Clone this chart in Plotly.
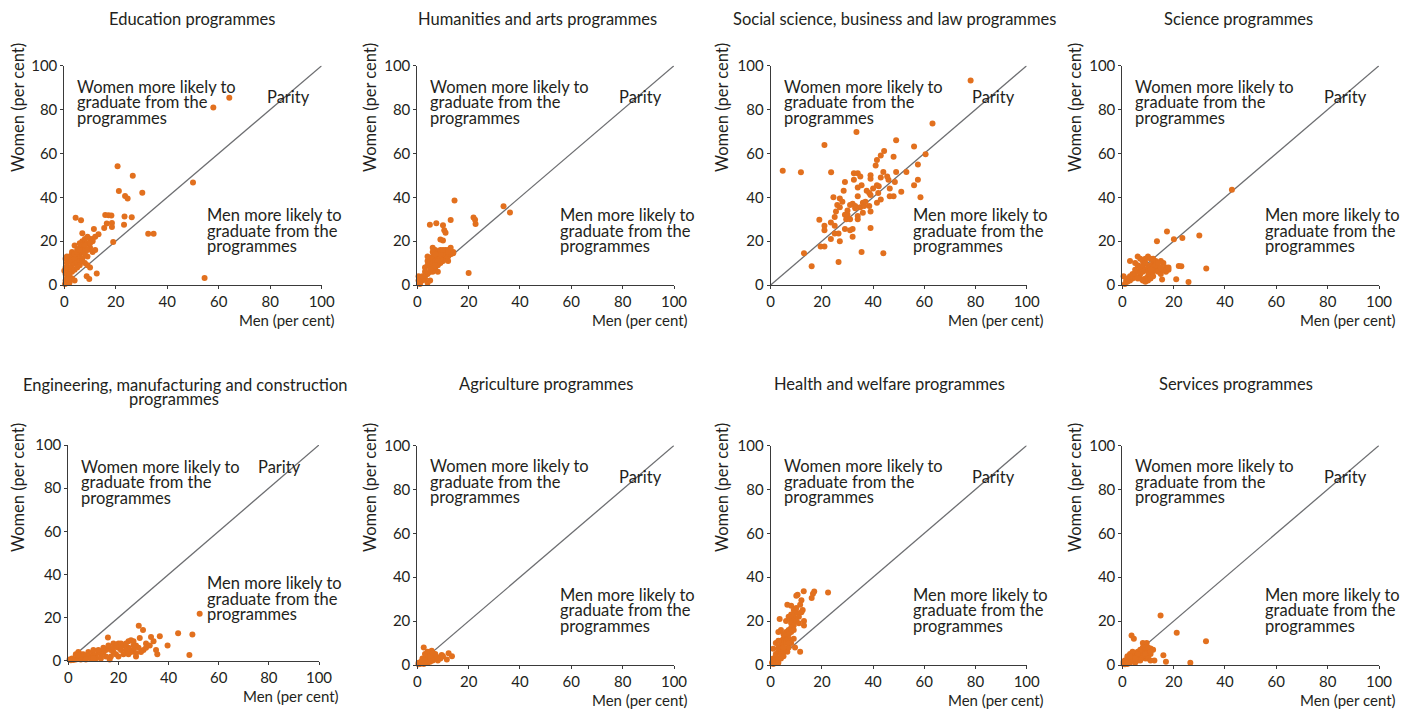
import plotly.graph_objects as go

W, H = 1412, 709

titles = [
    ["Education programmes"],
    ["Humanities and arts programmes"],
    ["Social science, business and law programmes"],
    ["Science programmes"],
    ["Engineering, manufacturing and construction", "programmes"],
    ["Agriculture programmes"],
    ["Health and welfare programmes"],
    ["Services programmes"],
]

tick_vals = [0, 20, 40, 60, 80, 100]
parity = [0, 100]

edu_points = [
    (64.1, 85.4), (57.9, 80.9), (20.7, 54.1), (26.6, 49.8), (50, 46.7), (21.2, 42.9), (30.3, 42.1),
    (23.6, 40.6), (24.6, 39.4), (4.4, 30.7), (15.9, 31.9), (17.2, 31.8), (18.3, 31.7), (23.4, 31.2),
    (26.2, 30.9), (6.5, 29.5), (16.5, 28), (18.5, 28.3), (23.2, 27.5), (18.5, 26.5), (11.5, 25.5),
    (15.5, 26), (7, 23.6), (13.3, 23.1), (32.6, 23.4), (34.7, 23.4), (19, 19.6), (54.5, 3.2),
    (12.6, 5.2), (9.7, 2.7), (8.7, 4),
    (2, 13), (3, 14), (4, 18), (5, 16), (6, 17), (7, 20), (8, 21), (9, 22), (10, 21), (11, 21),
    (6, 14), (5, 12), (4, 10), (3, 11), (7, 15), (8, 17), (9, 19), (6, 19), (7, 18), (5, 13),
    (4, 12), (3, 9), (2, 8), (1, 7), (1, 6), (0.5, 5), (1, 3), (2, 4), (0.5, 2), (1, 1), (2, 2),
    (0.3, 0.5), (3, 6), (4, 7), (5, 10), (6, 11), (7, 12), (8, 10), (9, 13), (11, 15), (12, 16),
    (10, 17), (8, 14), (9, 9), (10, 8), (6, 9), (7, 11), (5, 8), (3, 3), (2, 1), (4, 2), (1, 10),
    (2, 11), (3, 15), (11, 20), (12, 22), (8, 18), (9, 16), (10, 19), (7, 16), (4, 14), (5, 15),
    (6, 16), (0.5, 12), (1, 13), (0, 6.5), (0.5, 8), (2, 5), (1.5, 2.5),
]

hum_points = [
    (14.5, 38.5), (33.6, 35.9), (36.1, 33.1), (13, 29.6), (21.9, 30.8), (22.5, 29.8), (22.7, 27.8),
    (4.9, 27.5), (7.4, 28.2), (10, 27.3), (10.5, 25), (11, 23.8), (9, 20.8), (10, 20.3), (20, 5.5),
    (6, 17), (7, 16), (8, 15), (9, 16), (10, 15), (11, 14), (12, 16), (13, 17), (14, 15), (12, 13),
    (11, 12), (10, 11), (9, 10), (8, 9), (7, 12), (6, 13), (5, 12), (4, 11), (3, 8), (4, 9), (5, 10),
    (6, 8), (7, 7), (8, 6), (5, 6), (4, 5), (3, 3), (2, 2), (1, 1), (0.5, 4), (0.5, 2), (1, 0.5),
    (4, 1), (5, 2), (6, 10), (7, 11), (8, 13), (9, 12), (10, 14), (12, 11), (13, 14), (11, 16),
    (9, 14), (8, 11), (7, 9), (6, 6), (5, 7), (4, 13), (3, 6), (2, 4), (6, 15), (7, 14), (10, 16),
    (12, 15), (14, 14.5),
]

soc_points = [
    (78.1, 93.3), (63.2, 73.7), (33.5, 69.8), (49, 66), (21, 63.8), (44.3, 61.1), (56, 63.1),
    (43, 59), (60.5, 59.6), (48, 58.5), (41.5, 57), (4.7, 52.1), (11.8, 51.4), (23.6, 51.4),
    (32.5, 51), (34, 51), (41, 54.5), (44, 51.5), (49, 51.5), (53, 51.5), (57.5, 55), (39, 50),
    (39, 48.5), (35, 49.5), (32.5, 48), (29, 47), (43, 49), (46, 48), (45.5, 49.5), (48.5, 47),
    (56, 45.5), (57.5, 48), (35.5, 45.5), (41.5, 45.5), (42.2, 45), (34, 44.5), (28.5, 43),
    (37.5, 43), (38.5, 42), (46.5, 44), (51, 42.5), (39, 41), (24.5, 40), (27, 39.5), (34, 40.5),
    (46.5, 40.5), (48, 40.5), (58.5, 40), (28, 38), (32, 37), (36, 37.5), (43, 39), (41.5, 37.5),
    (26, 36.5), (27, 35.5), (33, 36), (35, 35.5), (38.5, 36), (30, 34), (36, 33), (39, 33.5),
    (25.5, 33.5), (29, 32), (25, 31), (34, 31.5), (29.5, 30), (34, 30), (31, 30), (19, 29.8),
    (23.5, 28.5), (21, 27), (25, 27), (29, 25.5), (32, 25.5), (39, 26), (21, 25), (31, 25),
    (25, 23.5), (26.5, 23.5), (32, 22), (23.5, 21), (27, 20), (19.5, 17.5), (21, 17.5),
    (13, 14.5), (35.5, 15), (44, 14.5), (16, 8.5), (26.5, 10.5), (36.5, 36), (37, 38),
    (33, 35), (31, 36.5), (40, 44), (42, 42), (30, 32),
]

sci_points = [
    (42.7, 43.4), (30, 22.6), (17.4, 24.4), (20.1, 20.9), (23.4, 21.4), (13.5, 20), (32.7, 7.5),
    (22, 8.7), (23, 8.5), (25.8, 1.4), (21, 2.6), (15.5, 2.5),
    (3, 11), (6, 13), (7, 12), (8, 11), (9, 12), (10, 13), (11, 12), (12, 10), (13, 11), (15, 11),
    (16, 10), (17, 8), (18, 7), (17, 6), (14, 8), (13, 7), (12, 6), (11, 5), (10, 4), (9, 3), (8, 2),
    (9, 1.5), (10, 2), (11, 3), (12, 4), (7, 5), (6, 6), (5, 4), (4, 3), (3, 2), (2, 1.5), (1, 0.5),
    (0.5, 4), (1.5, 2), (4, 5), (5, 10), (6, 9), (7, 8), (8, 9), (9, 7), (10, 8), (11, 9), (12, 8),
    (13, 9), (14, 6), (15, 5), (16, 7), (9, 10), (10, 6), (8, 6), (7, 3), (11, 7), (6, 3), (3, 4),
    (2, 3), (12, 12), (14, 10), (18, 8), (15, 8), (5, 7),
]

eng_points = [
    (52.4, 21.8), (28.1, 16.2), (29.8, 14.2), (43.8, 12.7), (49.5, 12.2), (36.5, 11.3), (15.8, 10.8),
    (33, 11), (28.5, 10.5), (39.6, 7), (48.3, 2.6), (27, 2), (16.5, 0.5), (35.5, 3), (35, 5),
    (34, 9), (31, 8), (32.5, 7),
    (20, 8), (22, 7), (24, 9), (25, 9.5), (26, 9), (27, 7), (26, 5), (25, 4), (24, 6), (23, 5),
    (22, 3), (20, 2), (18, 4), (17, 5), (16, 6), (15, 5), (14, 4), (13, 3), (12, 4), (11, 2),
    (10, 3), (9, 2), (8, 1.5), (7, 2), (6, 1), (5, 0.5), (4, 1), (3, 0.5), (2, 0.3), (1, 0.2),
    (3, 3), (4, 4), (5, 2), (6, 3), (8, 4), (10, 5), (12, 5), (14, 6), (16, 7), (18, 8), (19, 7),
    (20, 6), (21, 5), (19, 3), (17, 2), (15, 2), (13, 1), (11, 1), (9, 1), (21, 8), (23, 8),
    (18, 6), (30, 5), (29, 4), (31, 6), (28, 6), (26, 7), (24, 3), (27, 3.5), (10, 1), (7, 0.5),
    (5, 3), (4, 2.5), (1.5, 1), (0.5, 0.5),
]

agr_points = [
    (2.5, 8), (5.6, 6.5), (12.2, 5.3), (13.5, 4), (11.5, 2.5), (9.5, 4.5),
    (1, 1), (2, 2), (3, 3), (4, 4), (5, 5), (6, 4), (7, 3), (8, 3.5), (9, 3), (10, 4), (3, 1),
    (4, 2), (5, 3), (6, 2), (2, 1), (1, 0.5), (0.5, 0.3), (3, 5), (4, 6), (5, 4), (7, 5), (2, 3),
    (3, 2), (4, 1), (6, 5.5), (8, 2), (0.5, 1), (1.5, 1.5), (2.5, 0.5), (5, 1.5),
]

hea_points = [
    (22.4, 33), (12.9, 33.6), (17, 33.5), (16.5, 32.5), (10.5, 32), (10, 31.5), (16, 30.5),
    (12, 29.5), (11.5, 27.5), (6.5, 27.5), (8, 27), (12.5, 25), (3.5, 21), (13, 20), (13, 18),
    (1, 7.4), (11.5, 6), (9.5, 8), (6.5, 6),
    (9, 25), (10, 24), (9, 22), (8, 21), (9, 20), (8, 19), (9, 18), (8, 17), (7, 16), (6, 15),
    (8, 15), (9, 16), (7, 14), (6, 13), (5, 12), (4, 11), (5, 10), (4, 9), (3, 8), (4, 7), (3, 6),
    (2, 5), (2, 4), (1, 3), (1, 2), (0.5, 1), (2, 2), (3, 3), (4, 5), (5, 6), (6, 7), (7, 8),
    (8, 10), (7, 12), (6, 11), (5, 14), (3, 15), (2, 10), (3, 11), (8, 23), (10, 26), (11, 22),
    (12, 24), (6, 20), (7, 22), (5, 8), (4, 3), (2, 1), (1, 0.5), (3, 1), (9, 12), (10, 20),
    (11, 19), (4, 16), (6, 10), (7, 10), (5, 4),
]

ser_points = [
    (14.9, 22.6), (21.2, 14.7), (32.6, 10.8), (3.6, 13.4), (4.5, 12), (26.5, 1), (17, 1.5),
    (16, 4.4), (12.5, 2), (8, 10), (9.5, 10), (11, 7.5), (12, 7),
    (1, 1), (2, 2), (3, 3), (4, 4), (5, 5), (6, 6), (7, 5), (8, 6), (9, 7), (10, 6), (11, 5),
    (10, 4), (9, 3), (8, 4), (7, 3), (6, 2), (5, 1), (4, 2), (3, 1), (2, 0.5), (1, 0.3), (0.5, 0.5),
    (2, 3), (3, 5), (4, 6), (5, 4), (6, 4), (7, 7), (8, 8), (9, 5), (10, 3), (11, 2), (4, 3),
    (3, 2), (2, 4), (1, 2), (0.5, 1.5), (6, 5), (7, 2), (5, 3), (3, 4), (2, 1), (9, 8), (10, 8),
    (11, 6),
]

panels = [edu_points, hum_points, soc_points, sci_points, eng_points, agr_points, hea_points, ser_points]

women_label = ["Women more likely to", "graduate from the", "programmes"]
men_label = ["Men more likely to", "graduate from the", "programmes"]

# layout geometry (pixels)
col_x = [(64.3, 321.7), (417.3, 674.0), (770.7, 1026.7), (1122.3, 1379.0)]
row_y = [(65.7, 285.0), (445.5, 665.0)]
title_pos = [(191.5, 19), (537, 19), (894.5, 19), (1238, 19),
             (185, 385), (545.5, 384), (889.5, 384), (1236, 384)]
ytitle_x = [18, 370, 722, 1075]
ytitle_y = [108, 488]
xtitle_right = [337, 690, 1046, 1398]

FONT = "Lato"
TXT = "#231f20"
ORANGE = "#E2701E"
AX = "#3a3a3a"

fig = go.Figure()
layout = dict(
    template="none",
    width=W, height=H, margin=dict(l=0, r=0, t=0, b=0, pad=0), autosize=False,
    paper_bgcolor="white", plot_bgcolor="white", showlegend=False,
    font=dict(family=FONT, color=TXT, size=15),
)
annotations = []

def px(x):
    return x / W

def py(y):
    return 1 - y / H

for i, pts in enumerate(panels):
    r, c = divmod(i, 4)
    x0, x1 = col_x[c]
    y0, y1 = row_y[r]
    if i == 4:
        x0, x1, y0, y1 = 68.3, 319.0, 445.0, 660.7
    n = i + 1
    xa = "x" if n == 1 else f"x{n}"
    ya = "y" if n == 1 else f"y{n}"
    xk = "xaxis" if n == 1 else f"xaxis{n}"
    yk = "yaxis" if n == 1 else f"yaxis{n}"
    common = dict(range=[0, 100], tickvals=tick_vals, showgrid=False, zeroline=False,
                  showline=True, linecolor=AX, linewidth=1, ticks="outside", ticklen=3,
                  tickwidth=1, automargin=False,
                  tickcolor=AX, tickfont=dict(size=15, color=TXT, family=FONT), fixedrange=True)
    layout[xk] = dict(domain=[px(x0), px(x1)], anchor=ya, **common)
    layout[yk] = dict(domain=[py(y1), py(y0)], anchor=xa, **common)

    fig.add_trace(go.Scatter(x=parity, y=parity, mode="lines", xaxis=xa, yaxis=ya,
                             line=dict(color="#6d6e71", width=1.3), hoverinfo="skip", cliponaxis=False))
    fig.add_trace(go.Scatter(x=[p[0] for p in pts], y=[p[1] for p in pts], mode="markers",
                             xaxis=xa, yaxis=ya, cliponaxis=False,
                             marker=dict(color=ORANGE, size=6, line=dict(width=0))))

    # in-panel labels
    if i == 4:
        wy, my, parx, pary, mx = 90.0, 36.0, 84.3, 89.8, 54.5
    else:
        wy, my, parx, pary, mx = 90.5, 31.9, 87.0, 85.6, 54.8
    for k, t in enumerate(women_label):
        annotations.append(dict(x=4.3, y=wy, xref=xa, yref=ya, text=t, showarrow=False,
                                xanchor="left", yanchor="middle", yshift=-15.5 * k,
                                font=dict(size=16.5, family=FONT, color=TXT)))
    for k, t in enumerate(men_label):
        annotations.append(dict(x=mx, y=my, xref=xa, yref=ya, text=t, showarrow=False,
                                xanchor="left", yanchor="middle", yshift=-15.5 * k,
                                font=dict(size=16.5, family=FONT, color=TXT)))
    annotations.append(dict(x=parx, y=pary, xref=xa, yref=ya, text="Parity", showarrow=False,
                            xanchor="center", yanchor="middle",
                            font=dict(size=16.5, family=FONT, color=TXT)))

    # panel title
    tx, ty = title_pos[i]
    for k, t in enumerate(titles[i]):
        cx = tx if k == 0 else 174
        annotations.append(dict(x=px(cx), y=py(ty + 13.5 * k), xref="paper", yref="paper", text=t,
                                showarrow=False, xanchor="center", yanchor="middle",
                                font=dict(size=16.5, family=FONT, color=TXT)))
    # axis titles
    annotations.append(dict(x=px(ytitle_x[c]), y=py(ytitle_y[r]), xref="paper", yref="paper",
                            text="Women (per cent)", textangle=-90, showarrow=False,
                            xanchor="center", yanchor="middle",
                            font=dict(size=16.5, family=FONT, color=TXT)))
    xr = xtitle_right[c] if i != 4 else 341
    annotations.append(dict(x=px(xr), y=py(y1 + 35), xref="paper", yref="paper",
                            text="Men (per cent)", showarrow=False,
                            xanchor="right", yanchor="middle",
                            font=dict(size=15, family=FONT, color=TXT)))

layout["annotations"] = annotations
fig.update_layout(**layout)
fig.write_html("out.html", config={"displayModeBar": False},
               post_script="document.body.style.margin='0';document.body.style.padding='0';"
                           "document.documentElement.style.overflow='hidden';")
